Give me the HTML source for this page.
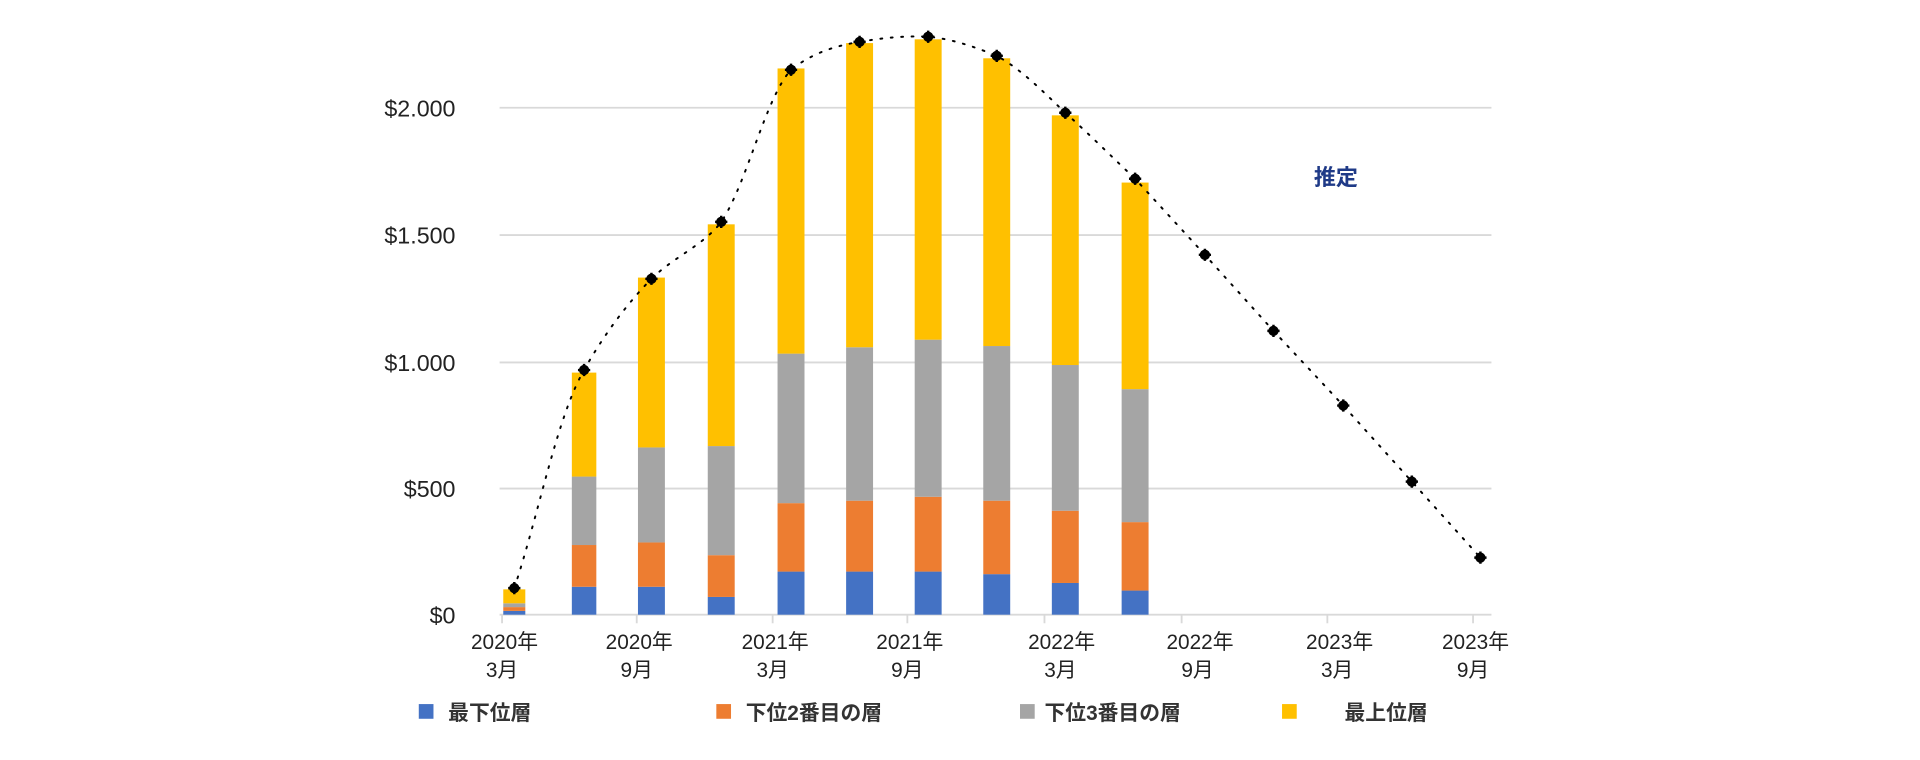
<!DOCTYPE html>
<html><head><meta charset="utf-8"><style>html,body{margin:0;padding:0;background:#fff}svg{display:block}text{font-family:"Liberation Sans","Noto Sans CJK JP",sans-serif}</style></head>
<body>
<svg width="1920" height="760" viewBox="0 0 1568 620.67" xmlns="http://www.w3.org/2000/svg">
<defs><g id="mk"><circle r="4.2" fill="#000"/><path d="M-5 0h10M0 -5v10" stroke="#000" stroke-width="2"/></g></defs>
<g stroke="#d9d9d9" stroke-width="1.5">
<line x1="408" y1="88" x2="1218" y2="88"/><line x1="408" y1="192" x2="1218" y2="192"/>
<line x1="408" y1="296" x2="1218" y2="296"/><line x1="408" y1="399" x2="1218" y2="399"/>
<line x1="408" y1="502" x2="1218" y2="502"/>
<line x1="410" y1="502" x2="410" y2="509"/><line x1="520" y1="502" x2="520" y2="509"/>
<line x1="631" y1="502" x2="631" y2="509"/><line x1="741" y1="502" x2="741" y2="509"/>
<line x1="853" y1="502" x2="853" y2="509"/><line x1="965" y1="502" x2="965" y2="509"/>
<line x1="1084" y1="502" x2="1084" y2="509"/><line x1="1203" y1="502" x2="1203" y2="509"/>
</g>
<g font-size="19" fill="#222" text-anchor="end">
<text x="372" y="95">$2.000</text><text x="372" y="199">$1.500</text><text x="372" y="303">$1.000</text>
<text x="372" y="406">$500</text><text x="372" y="509">$0</text>
</g>
<g>
<rect x="411" y="498.9" width="18" height="3.1" fill="#4472c4"/><rect x="411" y="495.8" width="18" height="3.1" fill="#ed7d31"/><rect x="411" y="492.7" width="18" height="3.1" fill="#a5a5a5"/><rect x="411" y="481.3" width="18" height="11.4" fill="#ffc000"/>
<rect x="467" y="479.2" width="20" height="22.8" fill="#4472c4"/><rect x="467" y="445.1" width="20" height="34.1" fill="#ed7d31"/><rect x="467" y="389.2" width="20" height="55.9" fill="#a5a5a5"/><rect x="467" y="304.3" width="20" height="84.9" fill="#ffc000"/>
<rect x="521" y="479.2" width="22" height="22.8" fill="#4472c4"/><rect x="521" y="443.0" width="22" height="36.2" fill="#ed7d31"/><rect x="521" y="365.4" width="22" height="77.6" fill="#a5a5a5"/><rect x="521" y="226.7" width="22" height="138.7" fill="#ffc000"/>
<rect x="578" y="487.5" width="22" height="14.5" fill="#4472c4"/><rect x="578" y="453.4" width="22" height="34.1" fill="#ed7d31"/><rect x="578" y="364.3" width="22" height="89.1" fill="#a5a5a5"/><rect x="578" y="183.2" width="22" height="181.1" fill="#ffc000"/>
<rect x="635" y="466.8" width="22" height="35.2" fill="#4472c4"/><rect x="635" y="410.9" width="22" height="55.9" fill="#ed7d31"/><rect x="635" y="288.8" width="22" height="122.1" fill="#a5a5a5"/><rect x="635" y="55.9" width="22" height="232.9" fill="#ffc000"/>
<rect x="691" y="466.8" width="22" height="35.2" fill="#4472c4"/><rect x="691" y="408.9" width="22" height="57.9" fill="#ed7d31"/><rect x="691" y="283.6" width="22" height="125.3" fill="#a5a5a5"/><rect x="691" y="35.2" width="22" height="248.4" fill="#ffc000"/>
<rect x="747" y="466.8" width="22" height="35.2" fill="#4472c4"/><rect x="747" y="405.7" width="22" height="61.1" fill="#ed7d31"/><rect x="747" y="277.4" width="22" height="128.3" fill="#a5a5a5"/><rect x="747" y="32.1" width="22" height="245.3" fill="#ffc000"/>
<rect x="803" y="468.9" width="22" height="33.1" fill="#4472c4"/><rect x="803" y="408.9" width="22" height="60.0" fill="#ed7d31"/><rect x="803" y="282.6" width="22" height="126.3" fill="#a5a5a5"/><rect x="803" y="47.6" width="22" height="235.0" fill="#ffc000"/>
<rect x="859" y="476.1" width="22" height="25.9" fill="#4472c4"/><rect x="859" y="417.1" width="22" height="59.0" fill="#ed7d31"/><rect x="859" y="298.1" width="22" height="119.0" fill="#a5a5a5"/><rect x="859" y="94.2" width="22" height="203.9" fill="#ffc000"/>
<rect x="916" y="482.3" width="22" height="19.7" fill="#4472c4"/><rect x="916" y="426.4" width="22" height="55.9" fill="#ed7d31"/><rect x="916" y="317.8" width="22" height="108.6" fill="#a5a5a5"/><rect x="916" y="149.1" width="22" height="168.7" fill="#ffc000"/>
</g>
<path d="M420,480.3 C440,420 455,340 477,302.2 C495,270 515,245 532,227.7 C550,210 575,200 589,181.2 C610,150 625,80 646,57 C665,42 685,37 702,34.2 C720,31 740,29 758,30 C780,32 800,40 814,45.6 C835,57 855,78 870,92.1 C890,110 910,130 927,146 L984,208.1 L1040,270.2 L1097,331.2 L1153,393.3 L1209,455.4" fill="none" stroke="#000" stroke-width="1.6" stroke-dasharray="1.5 7" stroke-linecap="round"/>
<use href="#mk" x="420" y="480.3"/><use href="#mk" x="477" y="302.2"/><use href="#mk" x="532" y="227.7"/><use href="#mk" x="589" y="181.2"/><use href="#mk" x="646" y="57"/><use href="#mk" x="702" y="34.2"/><use href="#mk" x="758" y="30"/><use href="#mk" x="814" y="45.6"/><use href="#mk" x="870" y="92.1"/><use href="#mk" x="927" y="146"/><use href="#mk" x="984" y="208.1"/><use href="#mk" x="1040" y="270.2"/><use href="#mk" x="1097" y="331.2"/><use href="#mk" x="1153" y="393.3"/><use href="#mk" x="1209" y="455.4"/>
<text x="1091" y="151" font-size="18" font-weight="bold" fill="#1f3a87" text-anchor="middle">推定</text>
<g font-size="17" fill="#222" text-anchor="middle">
<text x="412" y="530">2020年</text><text x="410" y="553">3月</text>
<text x="522" y="530">2020年</text><text x="520" y="553">9月</text>
<text x="633" y="530">2021年</text><text x="631" y="553">3月</text>
<text x="743" y="530">2021年</text><text x="741" y="553">9月</text>
<text x="867" y="530">2022年</text><text x="866" y="553">3月</text>
<text x="980" y="530">2022年</text><text x="978" y="553">9月</text>
<text x="1094" y="530">2023年</text><text x="1092" y="553">3月</text>
<text x="1205" y="530">2023年</text><text x="1203" y="553">9月</text>
</g>
<g font-size="17" font-weight="bold" fill="#333">
<rect x="342" y="575" width="12" height="12" fill="#4472c4"/><text x="366" y="588">最下位層</text>
<rect x="585" y="575" width="12" height="12" fill="#ed7d31"/><text x="609" y="588">下位2番目の層</text>
<rect x="833" y="575" width="12" height="12" fill="#a5a5a5"/><text x="853" y="588">下位3番目の層</text>
<rect x="1047" y="575" width="12" height="12" fill="#ffc000"/><text x="1098" y="588">最上位層</text>
</g>
</svg>
</body></html>
